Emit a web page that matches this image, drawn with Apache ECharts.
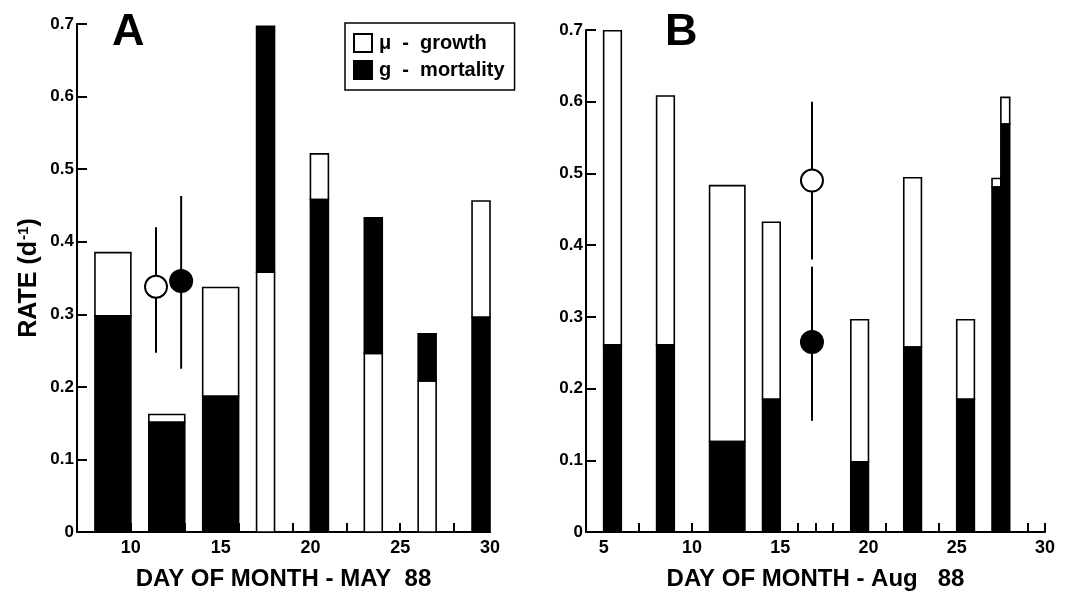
<!DOCTYPE html>
<html><head><meta charset="utf-8">
<script src="https://cdn.jsdelivr.net/npm/echarts@6/dist/echarts.min.js"></script>
<style>html,body{margin:0;padding:0;background:#fff}#c{width:1079px;height:596px}</style>
</head><body><div id="c"></div>
<script>
// ---- Panel A: May 88 ----
const mayStart     = [8, 11, 14, 17, 20, 23, 26, 29];
const mayEnd       = [10, 13, 16, 18, 21, 24, 27, 30];
const mayGrowth    = [0.385, 0.162, 0.337, 0.358, 0.521, 0.246, 0.208, 0.456];
const mayMortality = [0.298, 0.151, 0.187, 0.697, 0.458, 0.433, 0.273, 0.296];
const mayPointDay  = [11.4, 12.8];
const mayPointRate = [0.338, 0.346];
const mayPointLow  = [0.247, 0.225];
const mayPointHigh = [0.42, 0.463];
const mayTickDays  = [7, 10, 13, 16, 19, 22, 25, 28];
const mayLabelDays = [10, 15, 20, 25, 30];

// ---- Panel B: Aug 88 ----
const augStart     = [5, 8, 11, 14, 19, 22, 25, 27, 27.5];
const augEnd       = [6, 9, 13, 15, 20, 23, 26, 27.5, 28];
const augGrowth    = [0.699, 0.608, 0.483, 0.432, 0.296, 0.494, 0.296, 0.493, 0.606];
const augMortality = [0.261, 0.261, 0.126, 0.185, 0.098, 0.258, 0.185, 0.481, 0.569];
const augPointDay  = [16.8, 16.8];
const augPointRate = [0.49, 0.265];
const augPointLow  = [0.38, 0.155];
const augPointHigh = [0.60, 0.37];
const augTickDays  = [7, 10, 16, 17, 18, 21, 24, 29, 30];
const augLabelDays = [5, 10, 15, 20, 25, 30];

const yTickLabels = ['0', '0.1', '0.2', '0.3', '0.4', '0.5', '0.6', '0.7'];

const NAME_MU = 'μ  -  growth';
const NAME_G  = 'g  -  mortality';
const FONT = '"Liberation Sans", Arial, Helvetica, sans-serif';

function barRows(s, e, mu, g) { return s.map((v, i) => [v, e[i], mu[i], g[i]]); }
function errRows(d, lo, hi) { return d.map((v, i) => [v, lo[i], hi[i]]); }
function pointItems(d, r) {
  const fills = ['#fff', '#000'];
  return d.map((v, i) => ({
    value: [v, r[i]],
    itemStyle: { color: fills[i], borderColor: '#000', borderWidth: 2, opacity: 1 }
  }));
}

function segRender(kind) {
  return function (params, api) {
    const x0 = api.value(0), x1 = api.value(1), mu = api.value(2), g = api.value(3);
    let lo, hi;
    if (kind === 'mu') { if (mu <= g) { lo = 0; hi = mu; } else { lo = g; hi = mu; } }
    else { if (g <= mu) { lo = 0; hi = g; } else { lo = mu; hi = g; } }
    const p0 = api.coord([x0, hi]);
    const p1 = api.coord([x1, lo]);
    return {
      type: 'rect',
      shape: { x: p0[0], y: p0[1], width: p1[0] - p0[0], height: p1[1] - p0[1] },
      style: { fill: kind === 'mu' ? '#fff' : '#000', stroke: '#000', lineWidth: 1.6 }
    };
  };
}
function errRender(params, api) {
  const a = api.coord([api.value(0), api.value(1)]);
  const b = api.coord([api.value(0), api.value(2)]);
  return { type: 'line', shape: { x1: a[0], y1: a[1], x2: b[0], y2: b[1] }, style: { stroke: '#000', lineWidth: 2 } };
}

function xAxisDef(idx, min, ticks, labels, name) {
  return {
    type: 'value', gridIndex: idx, min: min, max: 30, interval: 1,
    axisLine: { show: true, onZero: false, lineStyle: { color: '#000', width: 2 } },
    axisTick: { show: true, inside: true, length: 9, customValues: ticks, lineStyle: { color: '#000', width: 2 } },
    axisLabel: { customValues: labels, color: '#000', fontSize: 18, fontWeight: 'bold', fontFamily: FONT, margin: 7 },
    splitLine: { show: false },
    name: name, nameLocation: 'middle', nameGap: 35,
    nameTextStyle: { color: '#000', fontSize: 24, fontWeight: 'bold', fontFamily: FONT }
  };
}
function yAxisDef(idx, withName) {
  const ax = {
    type: 'value', gridIndex: idx, min: 0, max: 0.7, interval: 0.1,
    axisLine: { show: true, lineStyle: { color: '#000', width: 2 } },
    axisTick: { show: true, inside: true, length: 10, lineStyle: { color: '#000', width: 2 } },
    axisLabel: {
      color: '#000', fontSize: 17, fontWeight: 'bold', fontFamily: FONT, margin: 3,
      formatter: (v) => yTickLabels[Math.round(v * 10)]
    },
    splitLine: { show: false }
  };
  if (withName) {
    ax.name = 'RATE (d{sup|-1})';
    ax.nameLocation = 'middle';
    ax.nameRotate = 90;
    ax.nameGap = 34;
    ax.nameTextStyle = {
      color: '#000', fontSize: 25, fontWeight: 'bold', fontFamily: FONT,
      rich: { sup: { fontSize: 15, fontWeight: 'bold', fontFamily: FONT, color: '#000', verticalAlign: 'top', padding: [0, 0, 12, 1] } }
    };
  }
  return ax;
}

const chart = echarts.init(document.getElementById('c'), null, { renderer: 'canvas' });
chart.setOption({
  backgroundColor: '#fff',
  animation: false,
  textStyle: { fontFamily: FONT },
  title: [
    { text: 'A', left: 112, top: 10, padding: 0, textStyle: { fontSize: 45, fontWeight: 'bold', color: '#000', fontFamily: FONT } },
    { text: 'B', left: 665, top: 10, padding: 0, textStyle: { fontSize: 45, fontWeight: 'bold', color: '#000', fontFamily: FONT } }
  ],
  legend: {
    data: [NAME_MU, NAME_G], orient: 'vertical', left: 345, top: 23,
    padding: [10, 10, 10, 8], itemWidth: 18, itemHeight: 18, itemGap: 7,
    borderColor: '#000', borderWidth: 1.5, selectedMode: false, icon: 'rect',
    textStyle: { color: '#000', fontSize: 20, fontWeight: 'bold', fontFamily: FONT, padding: [0, 0, 0, 2] }
  },
  grid: [
    { left: 77, top: 24, width: 413, height: 514 },
    { left: 586, top: 30, width: 459, height: 507 }
  ],
  xAxis: [
    xAxisDef(0, 7, mayTickDays, mayLabelDays, 'DAY OF MONTH - MAY  88'),
    xAxisDef(1, 4, augTickDays, augLabelDays, 'DAY OF MONTH - Aug   88')
  ],
  yAxis: [yAxisDef(0, true), yAxisDef(1, false)],
  series: [
    { name: NAME_MU, type: 'custom', xAxisIndex: 0, yAxisIndex: 0, renderItem: segRender('mu'),
      itemStyle: { color: '#fff', borderColor: '#000', borderWidth: 1.5 },
      encode: { x: [0, 1], y: [2, 3] }, data: barRows(mayStart, mayEnd, mayGrowth, mayMortality), z: 2 },
    { name: NAME_G, type: 'custom', xAxisIndex: 0, yAxisIndex: 0, renderItem: segRender('g'),
      itemStyle: { color: '#000', borderColor: '#000', borderWidth: 1.5 },
      encode: { x: [0, 1], y: [2, 3] }, data: barRows(mayStart, mayEnd, mayGrowth, mayMortality), z: 2 },
    { name: NAME_MU, type: 'custom', xAxisIndex: 1, yAxisIndex: 1, renderItem: segRender('mu'),
      itemStyle: { color: '#fff', borderColor: '#000', borderWidth: 1.5 },
      encode: { x: [0, 1], y: [2, 3] }, data: barRows(augStart, augEnd, augGrowth, augMortality), z: 2 },
    { name: NAME_G, type: 'custom', xAxisIndex: 1, yAxisIndex: 1, renderItem: segRender('g'),
      itemStyle: { color: '#000', borderColor: '#000', borderWidth: 1.5 },
      encode: { x: [0, 1], y: [2, 3] }, data: barRows(augStart, augEnd, augGrowth, augMortality), z: 2 },
    { type: 'custom', xAxisIndex: 0, yAxisIndex: 0, renderItem: errRender,
      encode: { x: 0, y: [1, 2] }, data: errRows(mayPointDay, mayPointLow, mayPointHigh), z: 3 },
    { type: 'custom', xAxisIndex: 1, yAxisIndex: 1, renderItem: errRender,
      encode: { x: 0, y: [1, 2] }, data: errRows(augPointDay, augPointLow, augPointHigh), z: 3 },
    { type: 'scatter', xAxisIndex: 0, yAxisIndex: 0, symbol: 'circle', symbolSize: 22, z: 4,
      itemStyle: { opacity: 1 }, data: pointItems(mayPointDay, mayPointRate) },
    { type: 'scatter', xAxisIndex: 1, yAxisIndex: 1, symbol: 'circle', symbolSize: 22, z: 4,
      itemStyle: { opacity: 1 }, data: pointItems(augPointDay, augPointRate) }
  ]
});
</script>
</body></html>
